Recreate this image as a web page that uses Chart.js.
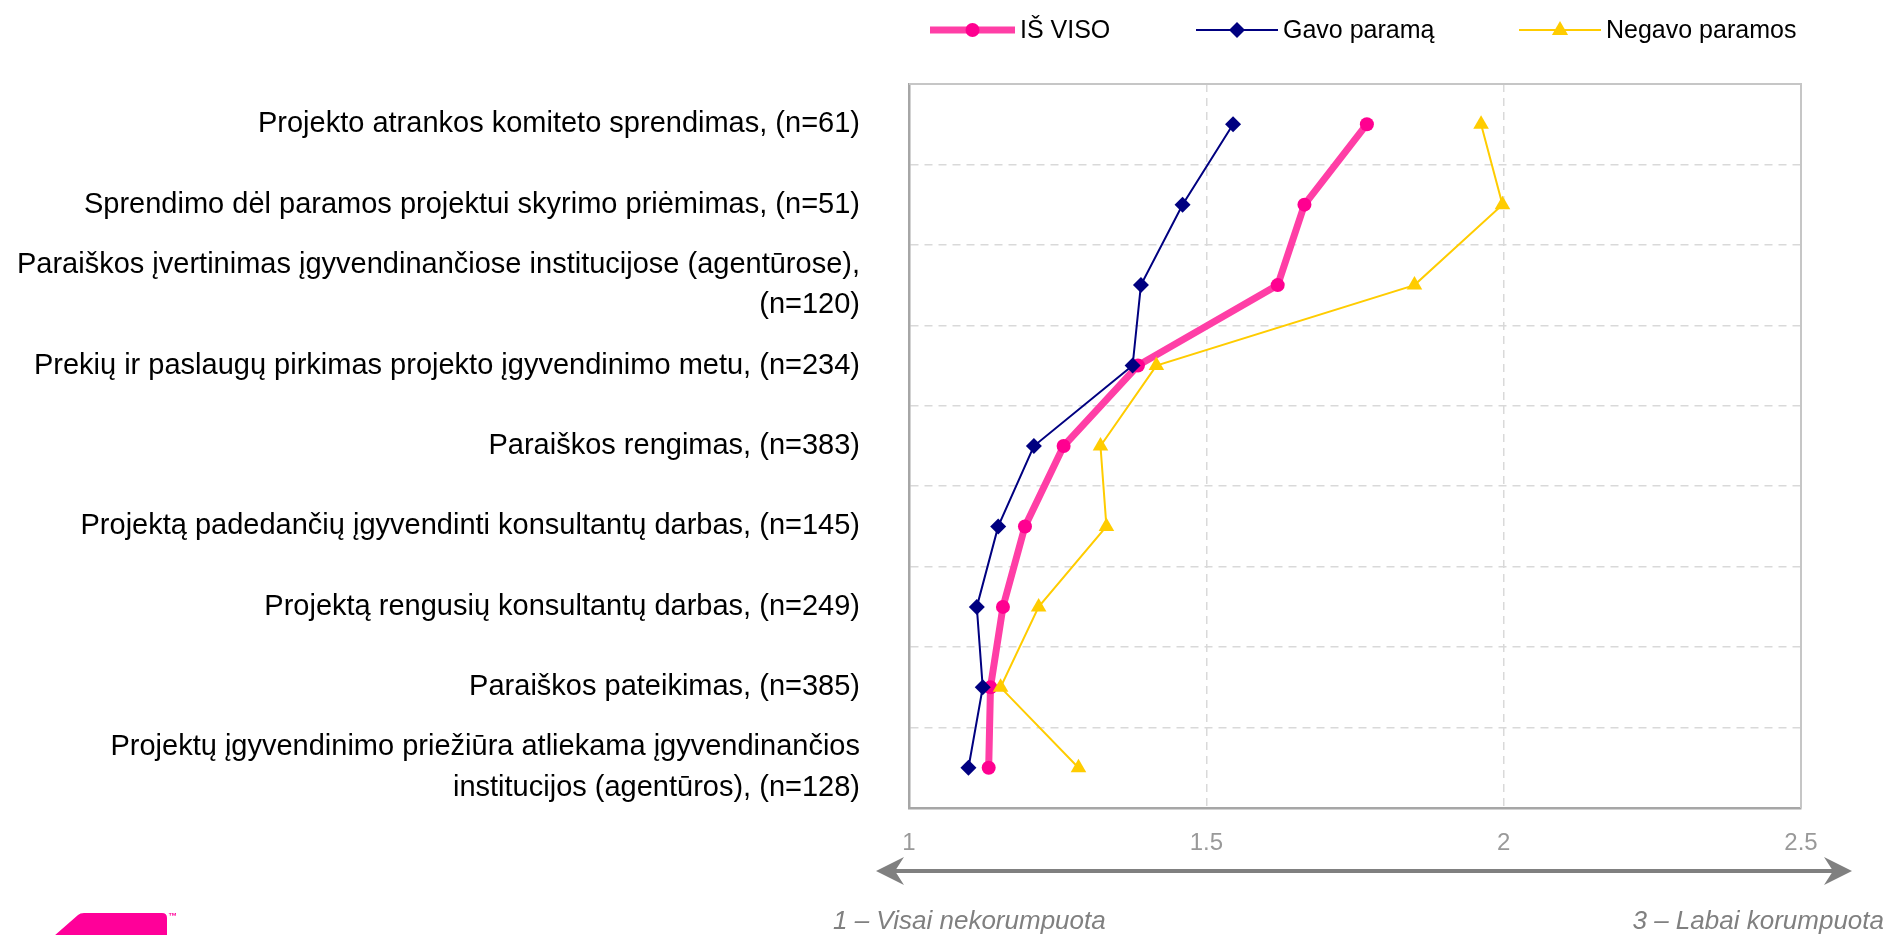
<!DOCTYPE html>
<html>
<head>
<meta charset="utf-8">
<script src="https://cdn.jsdelivr.net/npm/chart.js"></script>
<style>
  html, body { margin: 0; padding: 0; background: #fff; }
  canvas { display: block; }
</style>
</head>
<body>
<canvas id="chart" width="1887" height="935"></canvas>
<script>
Chart.defaults.font.family = '"Liberation Sans", Arial, sans-serif';

// categories, top to bottom
const categories = [
    'Projekto atrankos komiteto sprendimas, (n=61)',
    'Sprendimo dėl paramos projektui skyrimo priėmimas, (n=51)',
    ['Paraiškos įvertinimas įgyvendinančiose institucijose (agentūrose),', '(n=120)'],
    'Prekių ir paslaugų pirkimas projekto įgyvendinimo metu, (n=234)',
    'Paraiškos rengimas, (n=383)',
    'Projektą padedančių įgyvendinti konsultantų darbas, (n=145)',
    'Projektą rengusių konsultantų darbas, (n=249)',
    'Paraiškos pateikimas, (n=385)',
    ['Projektų įgyvendinimo priežiūra atliekama įgyvendinančios', 'institucijos (agentūros), (n=128)']
];

// series
const isViso = [1.77, 1.665, 1.62, 1.385, 1.26, 1.195, 1.158, 1.137, 1.134];
const gavoParama = [1.545, 1.46, 1.39, 1.376, 1.21, 1.15, 1.114, 1.124, 1.10];
const negavoParamos = [1.962, 1.998, 1.85, 1.416, 1.322, 1.332, 1.218, 1.154, 1.285];

// x axis ticks
const xTicks = [1, 1.5, 2, 2.5];

// axis end captions
const leftCaption = '1 – Visai nekorumpuota';
const rightCaption = '3 – Labai korumpuota';

//setup
const data = {
    labels: categories,
    datasets: [{
        label: 'IŠ VISO',
        data: isViso,
        borderColor: '#ff3ea6',
        borderWidth: 7,
        pointBackgroundColor: '#ff0090',
        pointBorderWidth: 0,
        pointRadius: 7,
        pointStyle: 'circle',
        order: 3
    }, {
        label: 'Gavo paramą',
        data: gavoParama,
        borderColor: '#000080',
        borderWidth: 2,
        pointBackgroundColor: '#000080',
        pointBorderWidth: 0,
        pointRadius: 8,
        pointStyle: 'rectRot',
        order: 1
    }, {
        label: 'Negavo paramos',
        data: negavoParamos,
        borderColor: '#ffcc00',
        borderWidth: 2,
        pointBackgroundColor: '#ffcc00',
        pointBorderWidth: 0,
        pointRadius: 9,
        pointStyle: 'triangle',
        order: 2
    }]
};

// legend, frame, arrow, captions, logo
const extras = {
    id: 'extras',
    afterDraw(chart) {
        const ctx = chart.ctx;
        const a = chart.chartArea;
        ctx.save();

        // light frame on top and right
        ctx.strokeStyle = '#c6c6c6';
        ctx.lineWidth = 2;
        ctx.beginPath();
        ctx.moveTo(a.left, a.top);
        ctx.lineTo(a.right, a.top);
        ctx.lineTo(a.right, a.bottom);
        ctx.stroke();

        // legend
        const legendY = 30;
        const items = [[930, 1015], [1196, 1278], [1519, 1601]];
        ctx.font = '25px "Liberation Sans", Arial, sans-serif';
        ctx.textBaseline = 'middle';
        chart.data.datasets.forEach((ds, i) => {
            const [x0, x1] = items[i];
            ctx.strokeStyle = ds.borderColor;
            ctx.lineWidth = ds.borderWidth;
            ctx.beginPath();
            ctx.moveTo(x0, legendY);
            ctx.lineTo(x1, legendY);
            ctx.stroke();
            const cx = (x0 + x1) / 2;
            const r = ds.pointRadius;
            ctx.fillStyle = ds.pointBackgroundColor;
            ctx.beginPath();
            if (ds.pointStyle === 'circle') {
                ctx.arc(cx, legendY, r, 0, Math.PI * 2);
            } else if (ds.pointStyle === 'rectRot') {
                ctx.moveTo(cx, legendY - r);
                ctx.lineTo(cx + r, legendY);
                ctx.lineTo(cx, legendY + r);
                ctx.lineTo(cx - r, legendY);
            } else {
                ctx.moveTo(cx, legendY - r);
                ctx.lineTo(cx + r * 0.9, legendY + r * 0.55);
                ctx.lineTo(cx - r * 0.9, legendY + r * 0.55);
            }
            ctx.closePath();
            ctx.fill();
            ctx.fillStyle = '#000';
            ctx.textAlign = 'left';
            ctx.fillText(ds.label, x1 + 5, legendY + 1);
        });

        // double arrow under axis
        const ay = 871, ax0 = 876, ax1 = 1852;
        ctx.strokeStyle = '#808080';
        ctx.fillStyle = '#808080';
        ctx.lineWidth = 4;
        ctx.beginPath();
        ctx.moveTo(ax0 + 10, ay);
        ctx.lineTo(ax1 - 10, ay);
        ctx.stroke();
        ctx.beginPath();
        ctx.moveTo(ax0, ay);
        ctx.lineTo(ax0 + 28, ay - 14);
        ctx.lineTo(ax0 + 19, ay);
        ctx.lineTo(ax0 + 28, ay + 14);
        ctx.closePath();
        ctx.fill();
        ctx.beginPath();
        ctx.moveTo(ax1, ay);
        ctx.lineTo(ax1 - 28, ay - 14);
        ctx.lineTo(ax1 - 19, ay);
        ctx.lineTo(ax1 - 28, ay + 14);
        ctx.closePath();
        ctx.fill();

        // captions
        ctx.font = 'italic 26px "Liberation Sans", Arial, sans-serif';
        ctx.fillStyle = '#808080';
        ctx.textBaseline = 'middle';
        ctx.textAlign = 'left';
        ctx.fillText(leftCaption, 833, 922);
        ctx.textAlign = 'right';
        ctx.fillText(rightCaption, 1884, 922);

        // logo piece, bottom left
        ctx.fillStyle = '#ff0099';
        ctx.beginPath();
        ctx.moveTo(54, 936);
        ctx.lineTo(78, 915);
        ctx.quadraticCurveTo(80, 913, 84, 913);
        ctx.lineTo(162, 913);
        ctx.quadraticCurveTo(167, 913, 167, 918);
        ctx.lineTo(167, 936);
        ctx.closePath();
        ctx.fill();
        ctx.font = 'bold 9px "Liberation Sans", Arial, sans-serif';
        ctx.textAlign = 'left';
        ctx.textBaseline = 'top';
        ctx.fillText('™', 168, 912);

        ctx.restore();
    }
};

//options
const gridDash = [8, 6];
const options = {
    responsive: false,
    animation: false,
    indexAxis: 'y',
    devicePixelRatio: 1,
    layout: {
        padding: { left: 0, top: 84, right: 86, bottom: 0 }
    },
    elements: {
        line: { tension: 0 }
    },
    scales: {
        x: {
            type: 'linear',
            min: 1,
            max: 2.5,
            afterBuildTicks: (scale) => {
                scale.ticks = xTicks.map(v => ({ value: v }));
            },
            afterFit: (scale) => { scale.height = 127; },
            grid: {
                color: '#d9d9d9',
                lineWidth: 1.5,
                drawTicks: false
            },
            border: {
                color: '#a6a6a6',
                width: 2.5,
                dash: gridDash
            },
            ticks: {
                padding: 21,
                color: '#999999',
                font: { size: 24 },
                callback: (v) => String(v)
            }
        },
        y: {
            type: 'category',
            offset: true,
            afterFit: (scale) => {
                scale.width = 909;
                scale.paddingTop = 0;
                scale.paddingBottom = 0;
            },
            grid: {
                offset: true,
                color: '#d9d9d9',
                lineWidth: 1.5,
                drawTicks: false
            },
            border: {
                color: '#a6a6a6',
                width: 2.5,
                dash: gridDash
            },
            ticks: {
                padding: 49,
                color: '#000',
                font: { size: 29, lineHeight: 1.4 },
                autoSkip: false
            }
        }
    },
    plugins: {
        legend: { display: false },
        tooltip: { enabled: false }
    }
};

//config
const config = {
    type: 'line',
    data: data,
    options,
    plugins: [extras]
};

//render init
const chart = new Chart(
    document.getElementById('chart'),
    config
);
</script>
</body>
</html>
